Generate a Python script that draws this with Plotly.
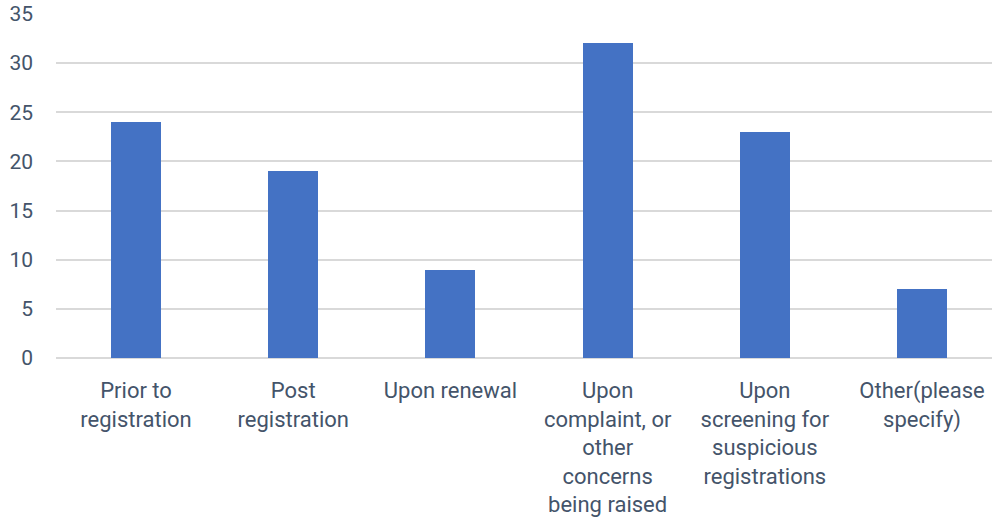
import plotly.graph_objects as go

categories = [
    "Prior to<br>registration",
    "Post<br>registration",
    "Upon renewal",
    "Upon<br>complaint, or<br>other<br>concerns<br>being raised",
    "Upon<br>screening for<br>suspicious<br>registrations",
    "Other(please<br>specify)",
]
values = [24, 19, 9, 32, 23, 7]
y_ticks = [0, 5, 10, 15, 20, 25, 30, 35]

text_color = "#44546a"
font_family = "Roboto, 'Open Sans', sans-serif"

fig = go.Figure(
    go.Bar(
        x=list(range(len(categories))),
        y=values,
        width=0.318,
        marker=dict(color="#4472c4", line=dict(width=0)),
        hoverinfo="y",
    )
)

fig.update_layout(
    width=992,
    height=520,
    margin=dict(l=56, r=0, t=14, b=162),
    paper_bgcolor="white",
    plot_bgcolor="white",
    showlegend=False,
    font=dict(family=font_family, size=22, color=text_color),
    bargap=0,
)

fig.update_xaxes(
    tickmode="array",
    tickvals=list(range(len(categories))),
    ticktext=categories,
    range=[-0.509, 5.445],
    showgrid=False,
    zeroline=False,
    showline=False,
    ticks="",
    ticklabelstandoff=17,
    tickfont=dict(size=22, color=text_color),
)

fig.update_yaxes(
    range=[0, 35],
    tickvals=y_ticks,
    showgrid=True,
    gridcolor="#d9d9d9",
    gridwidth=2,
    zeroline=True,
    zerolinecolor="#d9d9d9",
    zerolinewidth=2,
    showline=False,
    ticks="",
    ticklabelstandoff=22,
    tickfont=dict(size=21, color=text_color),
)

fig.write_html(
    "out.html",
    config={"displayModeBar": False},
    post_script="document.body.style.margin='0';document.body.style.overflow='hidden';",
)
